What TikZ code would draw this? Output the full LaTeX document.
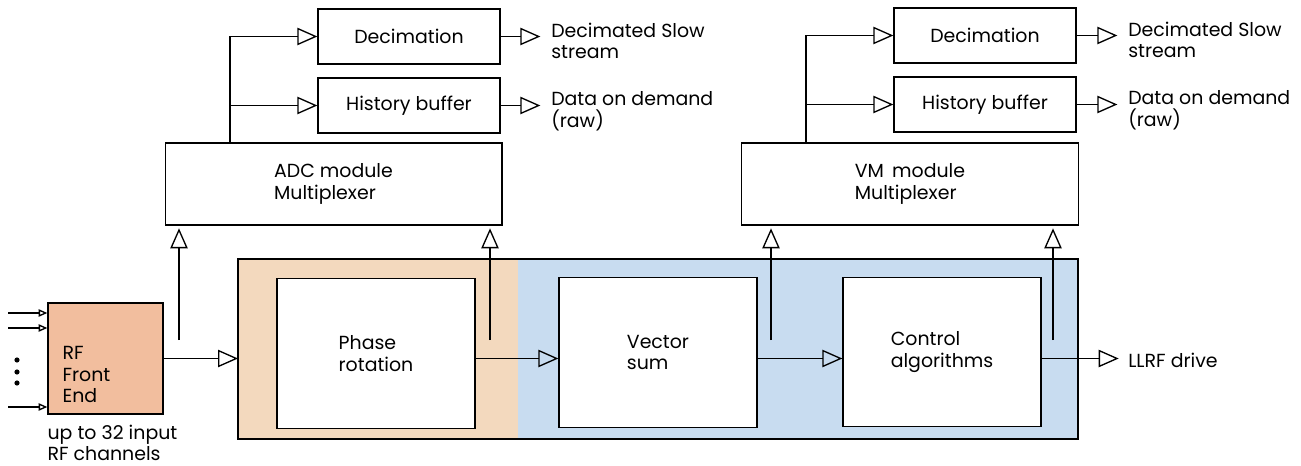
\documentclass[tikz,border=0pt]{standalone}
\usepackage{fontspec}
\setmainfont{Poppins}
\usetikzlibrary{arrows.meta}
\definecolor{rfpeach}{RGB}{242,190,158}
\definecolor{rotbg}{RGB}{243,217,190}
\definecolor{sumbg}{RGB}{200,220,240}
\tikzset{
    block/.style={draw, line width=1pt, fill=white, align=left, inner sep=0pt},
    bigblock/.style={block, minimum width=148.5pt, minimum height=112pt},
    muxblock/.style={block, minimum width=252.5pt, minimum height=61.5pt},
    smallblock/.style={block, minimum width=136.5pt, minimum height=41.25pt},
    lbl/.style={align=left, inner sep=0pt, anchor=west},
    sig/.style={line width=1pt, -{Triangle[open, length=15pt, width=13pt]}},
    insig/.style={line width=1pt, -{Triangle[open, length=6.5pt, width=5.5pt]}},
}
\begin{document}
\begin{tikzpicture}[x=0.75pt, y=-0.75pt, font=\fontsize{14.2}{16.2}\selectfont]
        \useasboundingbox (0,0) rectangle (1301,466);
        %coloured stages
        \fill[rotbg] (238,259) rectangle (518,439);
        \fill[sumbg] (518,259) rectangle (1078,439);
        \draw[line width=1pt] (238,259) rectangle (1078,439);
        \coordinate (rotin) at (238,0);
        %front end and its inputs
        \node[draw, line width=1pt, fill=rfpeach, minimum width=86.25pt, minimum height=83.25pt] (rf) at (105.5,358.5) {};
        \node[lbl] (rftxt) at ([shift={(15,16)}]rf.west) {RF\\Front\\End};
        \node[lbl, anchor=north west] (rfnote) at ([shift={(0,10)}]rf.south west) {up to 32 input\\RF channels};
        \coordinate (in1) at (8,313);
        \coordinate (in2) at (8,328);
        \coordinate (in3) at (8,407);
        \foreach \i in {1,2,3}
            \draw[insig] (in\i) -- (rf.west |- in\i);
        \foreach \y in {360,372,383}
            \fill (17,\y) circle (2.6);
        %main chain
        \node[bigblock] (phase) at (376,353.5) {Phase\\rotation};
        \node[bigblock] (vsum) at (658,352.5) {Vector\\sum};
        \node[bigblock] (ctrl) at (942,352) {Control\\algorithms};
        \node[lbl] (drive) at (1128,360) {LLRF drive};
        \draw[sig] (rf.east) -- (rf.east -| rotin);
        \draw[sig] (phase.east |- rf.east) -- (vsum.west |- rf.east);
        \draw[sig] (vsum.east |- rf.east) -- (ctrl.west |- rf.east);
        \draw[sig, shorten >=7pt] (ctrl.east |- rf.east) -- (drive.west |- rf.east);
        %multiplexers
        \node[muxblock] (adc) at (333.5,184) {ADC module\\Multiplexer};
        \node[muxblock] (vmm) at (910,184) {VM\, module\\Multiplexer};
        \coordinate (tapA) at (179,340);
        \coordinate (tapB) at (490,340);
        \coordinate (tapC) at (771,340);
        \coordinate (tapD) at (1053,340);
        \draw[sig, shorten >=2pt] (tapA) -- (tapA |- adc.south);
        \draw[sig, shorten >=2pt] (tapB) -- (tapB |- adc.south);
        \draw[sig, shorten >=2pt] (tapC) -- (tapC |- vmm.south);
        \draw[sig, shorten >=2pt] (tapD) -- (tapD |- vmm.south);
        %decimation and history, adc side
        \node[smallblock] (decA) at (409,36.5) {Decimation};
        \node[smallblock] (histA) at (409,105.5) {History buffer};
        \node[lbl] (slowA) at (551,41) {Decimated Slow\\stream};
        \node[lbl] (rawA) at (551,111) {Data on demand\\(raw)};
        \coordinate (brA) at (230,0);
        \draw[sig] (adc.north -| brA) |- (decA.west);
        \draw[sig] (brA |- histA.west) -- (histA.west);
        \draw[sig, shorten >=8pt] (decA.east) -- (decA.east -| slowA.west);
        \draw[sig, shorten >=8pt] (histA.east) -- (histA.east -| rawA.west);
        %decimation and history, vm side
        \node[smallblock] (decB) at (985,35.5) {Decimation};
        \node[smallblock] (histB) at (985,104.5) {History buffer};
        \node[lbl] (slowB) at (1128,40) {Decimated Slow\\stream};
        \node[lbl] (rawB) at (1128,110) {Data on demand\\(raw)};
        \coordinate (brB) at (806,0);
        \draw[sig] (vmm.north -| brB) |- (decB.west);
        \draw[sig] (brB |- histB.west) -- (histB.west);
        \draw[sig, shorten >=8pt] (decB.east) -- (decB.east -| slowB.west);
        \draw[sig, shorten >=8pt] (histB.east) -- (histB.east -| rawB.west);
    \end{tikzpicture}
\end{document}
